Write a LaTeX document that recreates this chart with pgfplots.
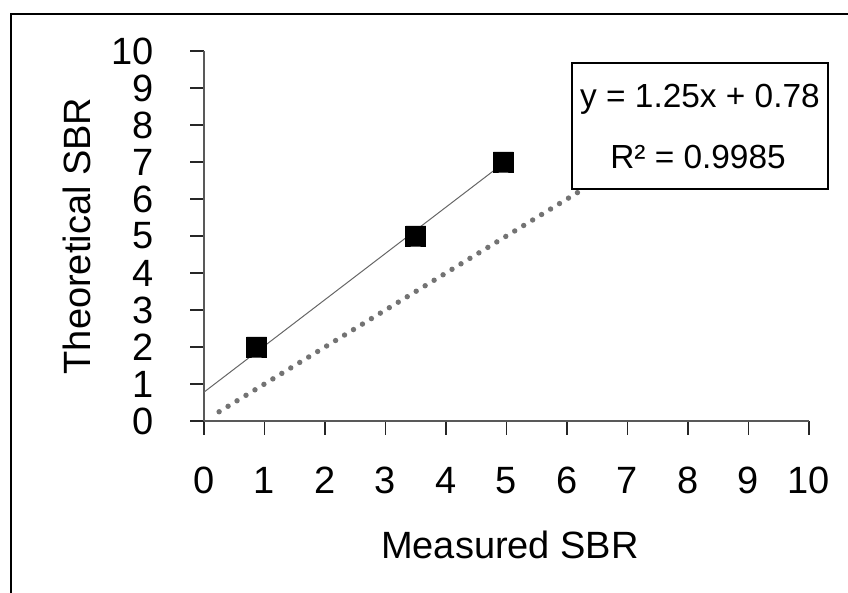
\documentclass[border=0pt]{standalone}
\usepackage{pgfplots}
\pgfplotsset{compat=1.18}
\usepackage{fontspec}
\setmainfont{Liberation Sans}
\pgfdeclareplotmark{rsquare}{%
  \pgfsetcornersarced{\pgfpoint{3pt}{3pt}}%
  \pgfpathmoveto{\pgfqpoint{0pt}{-\pgfplotmarksize}}%
  \pgfpathlineto{\pgfqpoint{\pgfplotmarksize}{-\pgfplotmarksize}}%
  \pgfpathlineto{\pgfqpoint{\pgfplotmarksize}{\pgfplotmarksize}}%
  \pgfpathlineto{\pgfqpoint{-\pgfplotmarksize}{\pgfplotmarksize}}%
  \pgfpathlineto{\pgfqpoint{-\pgfplotmarksize}{-\pgfplotmarksize}}%
  \pgfpathclose
  \pgfusepathqfillstroke}
\begin{document}
\begin{tikzpicture}
\path[use as bounding box] (0,0) rectangle (424pt,296.5pt);
\draw[line width=1pt] (5.25pt,0) -- (5.25pt,289.25pt) -- (424pt,289.25pt);
\begin{axis}[
  at={(102pt,86pt)}, anchor=south west,
  scale only axis, width=302.5pt, height=185pt,
  xmin=0, xmax=10, ymin=0, ymax=10,
  axis x line*=bottom, axis y line*=left,
  axis line style={draw=black!65, line width=0.6pt},
  tick style={draw=black!85, line width=0.6pt},
  tick align=outside, major tick length=7pt,
  xtick={0,1,...,10}, ytick={0,1,...,10},
  /pgf/number format/assume math mode=true,
  ticklabel style={font=\fontsize{19}{20}\selectfont},
  xticklabel style={anchor=north, yshift=-12.5pt},
  yticklabel style={anchor=east, xshift=-14.5pt},
  clip=false,
]
\addplot[draw=black!55, line width=2.7pt, line cap=round, dash pattern=on 0pt off 5.25pt]
  coordinates {(0.25,0.25) (7,7)};
\addplot[draw=black!60, line width=0.5pt] coordinates {(0,0.78) (4.95,6.9675)};
\addplot[only marks, mark=rsquare, mark size=5pt,
  mark options={fill=black, draw=black}]
  coordinates {(0.87,2) (3.5,5) (4.95,7)};
\end{axis}
\node[font=\fontsize{19}{20}\selectfont] at (255pt,24pt) {Measured SBR};
\node[font=\fontsize{19}{20}\selectfont, rotate=90] at (38.5pt,178.5pt) {Theoretical SBR};
\node[draw=black, line width=0.8pt, fill=white, minimum width=128pt, minimum height=63pt] at (350pt,233.5pt) {};
\node[font=\fontsize{16.7}{18}\selectfont] at (350pt,247pt) {y = 1.25x + 0.78};
\node[font=\fontsize{16.7}{18}\selectfont] at (349pt,218pt) {R² = 0.9985};
\end{tikzpicture}
\end{document}
